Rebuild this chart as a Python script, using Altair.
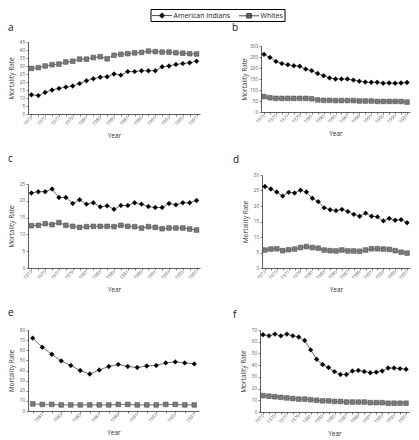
import altair as alt
import pandas as pd

FONT = "Open Sans"
SERIES = ["American Indians", "Whites"]

YEARS_FULL = list(range(1973, 1998))
YEARS_E = list(range(1980, 1998))

a_ai = [12, 11.5, 13.5, 15, 16, 16.8, 17.5, 19, 20.8, 22, 23, 23.3, 25, 24.3, 26.5, 26.5, 27, 27, 27, 29.5, 30, 31, 31.5, 32, 33]
a_wh = [28.5, 29, 30, 30.8, 31.2, 32.5, 33, 34.3, 34.3, 35.3, 35.8, 34.5, 36.7, 37.3, 37.7, 38.2, 38.5, 39.3, 39, 38.7, 38.7, 38.3, 38, 37.7, 37.5]

b_ai = [262, 248, 230, 220, 215, 210, 208, 195, 188, 175, 165, 155, 150, 150, 150, 145, 140, 136, 135, 135, 131, 132, 131, 132, 134]
b_wh = [70, 65, 62, 62, 62, 62, 62, 62, 60, 55, 53, 53, 52, 52, 52, 52, 50, 50, 50, 48, 48, 48, 48, 48, 45]

c_ai = [22.3, 22.7, 22.7, 23.5, 21, 21, 19.2, 20.3, 19, 19.4, 18.2, 18.5, 17.5, 18.6, 18.6, 19.4, 19, 18.3, 18, 18, 19.2, 18.8, 19.4, 19.4, 20.1]
c_wh = [12.6, 12.7, 13.2, 12.9, 13.5, 12.7, 12.4, 12.1, 12.3, 12.4, 12.4, 12.4, 12.3, 12.7, 12.4, 12.3, 11.9, 12.3, 12.1, 11.7, 11.9, 11.9, 11.9, 11.6, 11.3]

d_ai = [26.3, 25.5, 24.5, 23.2, 24.4, 24.2, 25.1, 24.5, 22.5, 21.4, 19.4, 18.8, 18.5, 18.9, 18.2, 17.3, 16.7, 17.7, 16.7, 16.5, 15.2, 16, 15.4, 15.6, 14.6]
d_wh = [5.8, 6.1, 6.2, 5.6, 5.9, 6.1, 6.6, 6.9, 6.6, 6.4, 5.8, 5.6, 5.5, 5.8, 5.5, 5.5, 5.4, 5.8, 6.2, 6.2, 6.1, 6, 5.6, 5.1, 4.8]

e_ai = [72, 63, 56, 49.5, 45, 40, 36.5, 40.5, 44, 46, 44, 43, 44.5, 45, 47.5, 48.5, 47.5, 46.5]
e_wh = [7, 6.5, 6.5, 6, 6, 6, 6, 6, 6, 6.5, 6.5, 6, 6, 6, 6.5, 6.5, 6, 6]

f_ai = [66, 65, 66.5, 65, 66.5, 65, 64, 61, 53, 45, 40.5, 38, 34.5, 32, 32, 35, 35.5, 34.5, 33.5, 34, 35, 37.5, 37.5, 37, 36.5]
f_wh = [14, 13.5, 13, 12.5, 12, 11.5, 11, 11, 10.5, 10, 9.5, 9.5, 9, 9, 8.5, 8.5, 8.5, 8.5, 8, 8, 8, 7.5, 7.5, 7.5, 7.5]

# legend glyphs: a 20px line with the marker in its middle (symbol size 100 -> 5px per unit)
LEGEND_PATHS = [
    "M-2,0L2,0M0,-0.55L0.55,0L0,0.55L-0.55,0Z",
    "M-2,0L2,0M-0.46,-0.46L0.46,-0.46L0.46,0.46L-0.46,0.46Z",
]


def panel(letter, years, ai, wh, ymax, ystep, w, h, yr, lx, ly, legend=False):
    n = len(years)
    df = pd.DataFrame({
        "year": years + years,
        "rate": ai + wh,
        "series": [SERIES[0]] * n + [SERIES[1]] * n,
    })
    x = alt.X(
        "year:O",
        scale=alt.Scale(type="point", padding=0.5),
        axis=alt.Axis(
            title="Year",
            labelExpr="datum.value % 2 == 1 ? datum.label : ''",
            labelAngle=-45,
            labelAlign="right",
            labelBaseline="middle",
            labelFontSize=4.5,
            labelPadding=1,
            tickSize=2,
            minExtent=15,
            maxExtent=15,
            titlePadding=3,
            titleBaseline="top",
        ),
    )
    yscale = alt.Scale(domain=[0, ymax], nice=False, range=[h, yr])
    y = alt.Y(
        "rate:Q",
        scale=yscale,
        axis=alt.Axis(
            title="Mortality Rate",
            values=list(range(0, ymax + 1, ystep)),
            grid=False,
            labelFontSize=4.5,
            labelPadding=1.5,
            tickSize=2,
            minExtent=11,
            maxExtent=11,
            titlePadding=3,
        ),
    )
    base = alt.Chart(df)
    lines = base.mark_line(color="#333", strokeWidth=0.7).encode(x=x, y=y, detail="series:N")
    ai_pts = base.transform_filter(alt.datum.series == SERIES[0]).mark_point(
        shape="diamond", filled=True, fill="black", stroke="black", strokeWidth=0.3, size=24, opacity=1
    ).encode(x=x, y=y)
    wh_pts = base.transform_filter(alt.datum.series == SERIES[1]).mark_point(
        shape="square", filled=True, fill="#7a7a7a", stroke="#444", strokeWidth=0.5, size=22, opacity=1
    ).encode(x=x, y=y)
    label = alt.Chart(pd.DataFrame({"panel": [letter]})).mark_text(
        font=FONT, fontSize=10, align="left", baseline="alphabetic", color="#111"
    ).encode(text="panel:N", x=alt.value(lx), y=alt.value(ly))
    layers = [lines, wh_pts, ai_pts, label]
    if legend:
        leg = base.transform_filter("false").mark_point(
            filled=True, size=100, stroke="#222", strokeWidth=0.8, opacity=1
        ).encode(
            color=alt.Color(
                "series:N",
                scale=alt.Scale(domain=SERIES, range=["black", "#7a7a7a"]),
                legend=alt.Legend(
                    title=None,
                    orient="none",
                    legendX=122.5,
                    legendY=-33,
                    direction="horizontal",
                    strokeColor="black",
                    padding=1,
                    labelFontSize=7,
                    labelFont=FONT,
                    labelColor="#222",
                    labelOffset=6,
                    symbolOffset=5,
                    columnPadding=6,
                    symbolSize=100,
                    symbolStrokeColor="#222",
                    symbolStrokeWidth=0.8,
                    symbolOpacity=1,
                ),
            ),
            shape=alt.Shape(
                "series:N",
                scale=alt.Scale(domain=SERIES, range=LEGEND_PATHS),
                legend=alt.Legend(title=None),
            ),
        )
        layers.append(leg)
    return alt.layer(*layers).properties(width=w, height=h)


pa = panel("a", YEARS_FULL, a_ai, a_wh, 45, 5, 172, 72, 0, -20, -11, legend=True)
pb = panel("b", YEARS_FULL, b_ai, b_wh, 300, 50, 149, 70, 4, -29, -11)
pc = panel("c", YEARS_FULL, c_ai, c_wh, 25, 5, 172, 93, 9, -20, -13)
pd_ = panel("d", YEARS_FULL, d_ai, d_wh, 30, 5, 148, 93, 0, -29, -12.3)
pe = panel("e", YEARS_E, e_ai, e_wh, 80, 10, 171, 81, 0, -20, -13.7)
pf = panel("f", YEARS_FULL, f_ai, f_wh, 70, 10, 149, 82, 0, -27, -12)

row1 = alt.hconcat(pa, pb, spacing=32)
row2 = alt.hconcat(pc, pd_, spacing=33)
row3 = alt.hconcat(pe, pf, spacing=34)

chart = alt.vconcat(row1, row2, row3, spacing=15).properties(padding=0).configure_view(
    stroke=None
).configure_axis(
    labelFont=FONT,
    titleFont=FONT,
    labelColor="#555",
    titleColor="#333",
    titleFontSize=6.5,
    titleFontWeight="normal",
    domainColor="#333",
    tickColor="#333",
    domainWidth=0.8,
    tickWidth=0.6,
)

chart.save("out.html", embed_options={"renderer": "svg", "actions": False})
